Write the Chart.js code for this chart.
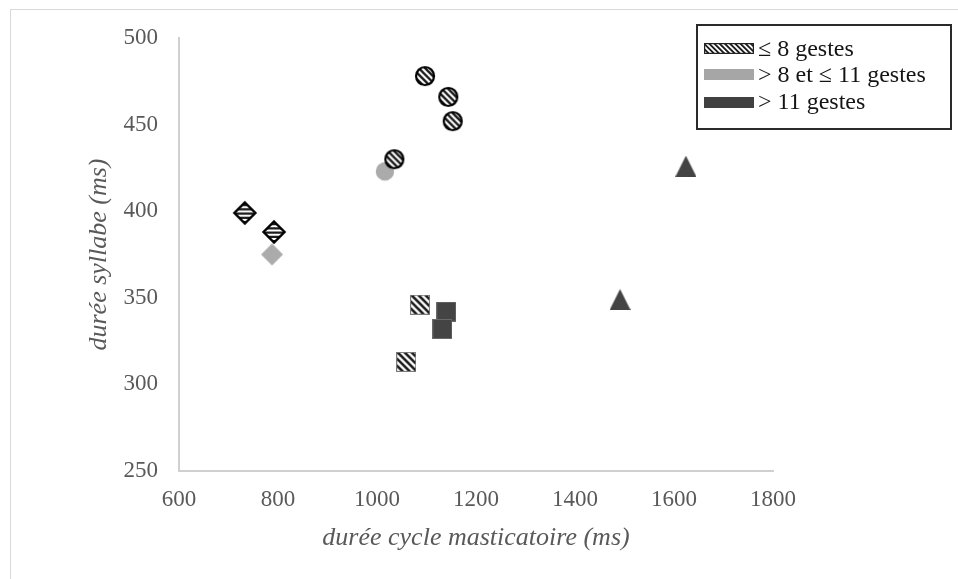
<!DOCTYPE html>
<html>
<head>
<meta charset="utf-8">
<script src="https://cdn.jsdelivr.net/npm/chart.js@4"></script>
<style>
  html, body { margin: 0; padding: 0; background: #ffffff; }
  #wrap { width: 958px; height: 579px; }
</style>
</head>
<body>
<div id="wrap"><canvas id="c" width="958" height="579"></canvas></div>
<script>
// Axis ticks
const xTickValues = [600, 800, 1000, 1200, 1400, 1600, 1800];
const yTickValues = [250, 300, 350, 400, 450, 500];

// Group labels (number of gestures)
const groupLabels = ['\u2264 8 gestes', '> 8 et \u2264 11 gestes', '> 11 gestes'];

// \u2264 8 gestes
const le8DiamondX = [733, 792];
const le8DiamondY = [399, 388];
const le8CircleX = [1097, 1144, 1153, 1035];
const le8CircleY = [478, 466, 452, 430];
const le8SquareX = [1087, 1059];
const le8SquareY = [346, 313];

// > 8 et \u2264 11 gestes
const midDiamondX = [788];
const midDiamondY = [375];
const midCircleX = [1016];
const midCircleY = [423];

// > 11 gestes
const gt11SquareX = [1140, 1132];
const gt11SquareY = [342, 332];
const gt11TriangleX = [1624, 1491];
const gt11TriangleY = [426, 349];

const GRAY = '#ababab';
const DARK = '#444444';
const INK = '#1c1c1c';

function pairs(xs, ys) { return xs.map((x, i) => ({ x: x, y: ys[i] })); }

function makeCanvas(w, h) {
  const c = document.createElement('canvas');
  c.width = w; c.height = h;
  return c;
}

// diagonal "\" stripes over the whole canvas
function diagStripes(ctx, w, h, step, lw) {
  ctx.save();
  ctx.fillStyle = '#ffffff';
  ctx.fillRect(0, 0, w, h);
  ctx.strokeStyle = INK;
  ctx.lineWidth = lw;
  for (let k = -h - step; k < w + step; k += step) {
    ctx.beginPath();
    ctx.moveTo(k, 0);
    ctx.lineTo(k + h, h);
    ctx.stroke();
  }
  ctx.restore();
}

function horizStripes(ctx, w, h, step, lw) {
  ctx.save();
  ctx.fillStyle = '#ffffff';
  ctx.fillRect(0, 0, w, h);
  ctx.strokeStyle = INK;
  ctx.lineWidth = lw;
  for (let k = 1; k < h + step; k += step) {
    ctx.beginPath();
    ctx.moveTo(0, k);
    ctx.lineTo(w, k);
    ctx.stroke();
  }
  ctx.restore();
}

function diamondPath(ctx, cx, cy, r) {
  ctx.beginPath();
  ctx.moveTo(cx, cy - r);
  ctx.lineTo(cx + r, cy);
  ctx.lineTo(cx, cy + r);
  ctx.lineTo(cx - r, cy);
  ctx.closePath();
}

function hatchDiamond() {
  const s = 26, c = makeCanvas(s, s), ctx = c.getContext('2d');
  diamondPath(ctx, s / 2, s / 2, 10.5);
  ctx.save(); ctx.clip(); horizStripes(ctx, s, s, 4.2, 2.2); ctx.restore();
  diamondPath(ctx, s / 2, s / 2, 10.5);
  ctx.lineWidth = 2.4; ctx.strokeStyle = '#000'; ctx.stroke();
  return c;
}

function grayDiamond() {
  const s = 24, c = makeCanvas(s, s), ctx = c.getContext('2d');
  diamondPath(ctx, s / 2, s / 2, 11);
  ctx.fillStyle = GRAY; ctx.fill();
  return c;
}

function hatchCircle() {
  const s = 24, c = makeCanvas(s, s), ctx = c.getContext('2d');
  ctx.beginPath(); ctx.arc(s / 2, s / 2, 9, 0, Math.PI * 2);
  ctx.save(); ctx.clip(); diagStripes(ctx, s, s, 6.4, 2.4); ctx.restore();
  ctx.beginPath(); ctx.arc(s / 2, s / 2, 9, 0, Math.PI * 2);
  ctx.lineWidth = 2.2; ctx.strokeStyle = '#000'; ctx.stroke();
  return c;
}

function grayCircle() {
  const s = 22, c = makeCanvas(s, s), ctx = c.getContext('2d');
  ctx.beginPath(); ctx.arc(s / 2, s / 2, 9.2, 0, Math.PI * 2);
  ctx.fillStyle = GRAY; ctx.fill();
  return c;
}

function hatchSquare() {
  const s = 20, c = makeCanvas(s, s), ctx = c.getContext('2d');
  diagStripes(ctx, s, s, 7, 2.6);
  ctx.lineWidth = 1; ctx.strokeStyle = '#7a7a7a';
  ctx.strokeRect(0.5, 0.5, s - 1, s - 1);
  return c;
}

function darkSquare() {
  const s = 20, c = makeCanvas(s, s), ctx = c.getContext('2d');
  ctx.fillStyle = DARK; ctx.fillRect(0, 0, s, s);
  ctx.lineWidth = 1; ctx.strokeStyle = '#6a6a6a';
  ctx.strokeRect(0.5, 0.5, s - 1, s - 1);
  return c;
}

function darkTriangle() {
  const w = 21, h = 21, c = makeCanvas(w, h), ctx = c.getContext('2d');
  ctx.beginPath();
  ctx.moveTo(w / 2, 0);
  ctx.lineTo(w, h);
  ctx.lineTo(0, h);
  ctx.closePath();
  ctx.fillStyle = DARK; ctx.fill();
  return c;
}

// Legend swatches
function swatchHatch() {
  const w = 50, h = 11, c = makeCanvas(w, h), ctx = c.getContext('2d');
  diagStripes(ctx, w, h, 5.2, 1.8);
  ctx.lineWidth = 1.2; ctx.strokeStyle = '#222';
  ctx.strokeRect(0.6, 0.6, w - 1.2, h - 1.2);
  return c;
}
function swatchFill(color) {
  const w = 50, h = 11, c = makeCanvas(w, h), ctx = c.getContext('2d');
  ctx.fillStyle = color; ctx.fillRect(0, 0, w, h);
  return c;
}
const swatches = [swatchHatch(), swatchFill('#a6a6a6'), swatchFill('#404040')];

function ds(label, xs, ys, style) {
  return {
    label: label,
    data: pairs(xs, ys),
    pointStyle: style,
    pointRadius: 10,
    pointHoverRadius: 10,
    showLine: false
  };
}

// White background and the light chart-area frame
const framePlugin = {
  id: 'frame',
  beforeDraw(chart) {
    const ctx = chart.ctx;
    ctx.save();
    ctx.fillStyle = '#ffffff';
    ctx.fillRect(0, 0, chart.width, chart.height);
    ctx.strokeStyle = '#d9d9d9';
    ctx.lineWidth = 1;
    ctx.strokeRect(10.5, 9.5, chart.width + 20, chart.height + 20);
    ctx.restore();
  }
};

// Boxed legend in the upper right corner
const boxLegend = {
  id: 'boxLegend',
  afterDraw(chart) {
    const ctx = chart.ctx;
    const left = 697, top = 25, w = 254, h = 104;
    ctx.save();
    ctx.fillStyle = '#ffffff';
    ctx.fillRect(left, top, w, h);
    ctx.lineWidth = 2;
    ctx.strokeStyle = '#2a2a2a';
    ctx.strokeRect(left, top, w, h);
    ctx.font = '24px "Liberation Serif", "DejaVu Serif", serif';
    ctx.fillStyle = '#141414';
    ctx.textBaseline = 'middle';
    ctx.textAlign = 'left';
    const rows = [48.5, 74.5, 102];
    groupLabels.forEach((t, i) => {
      ctx.drawImage(swatches[i], 704, Math.round(rows[i] - 5.5));
      ctx.fillText(t, 758, rows[i] + 1);
    });
    ctx.restore();
  }
};

const tickFont = { family: '"Liberation Serif", "Times New Roman", serif', size: 23 };
const titleFont = { family: '"Liberation Serif", "Times New Roman", serif', size: 26, style: 'italic', lineHeight: 1.2 };
const tickColor = '#595959';
const plain = v => String(v);

new Chart(document.getElementById('c'), {
  type: 'scatter',
  data: {
    datasets: [
      ds(groupLabels[0], le8DiamondX, le8DiamondY, hatchDiamond()),
      ds(groupLabels[0], le8CircleX, le8CircleY, hatchCircle()),
      ds(groupLabels[0], le8SquareX, le8SquareY, hatchSquare()),
      ds(groupLabels[1], midDiamondX, midDiamondY, grayDiamond()),
      ds(groupLabels[1], midCircleX, midCircleY, grayCircle()),
      ds(groupLabels[2], gt11SquareX, gt11SquareY, darkSquare()),
      ds(groupLabels[2], gt11TriangleX, gt11TriangleY, darkTriangle())
    ]
  },
  options: {
    responsive: false,
    animation: false,
    devicePixelRatio: 1,
    layout: { padding: { left: 0, top: 38, right: 185, bottom: 0 } },
    plugins: {
      legend: { display: false },
      tooltip: { enabled: false }
    },
    scales: {
      x: {
        type: 'linear',
        min: 600, max: 1800,
        afterBuildTicks(scale) { scale.ticks = xTickValues.map(v => ({ value: v })); },
        afterFit(scale) { scale.height = 108; },
        ticks: { font: tickFont, color: tickColor, padding: 15, maxRotation: 0, callback: plain },
        grid: { drawOnChartArea: false, drawTicks: false },
        border: { display: true, color: '#d0d0d0', width: 2 },
        title: {
          display: true,
          text: 'durée cycle masticatoire (ms)',
          font: titleFont, color: tickColor,
          padding: { top: 0, bottom: 25 }
        }
      },
      y: {
        type: 'linear',
        min: 250, max: 500,
        afterBuildTicks(scale) { scale.ticks = yTickValues.map(v => ({ value: v })); },
        afterFit(scale) { scale.width = 179; },
        ticks: { font: tickFont, color: tickColor, padding: 21, callback: plain },
        grid: { drawOnChartArea: false, drawTicks: false },
        border: { display: true, color: '#d0d0d0', width: 2 },
        title: {
          display: true,
          text: 'durée syllabe (ms)',
          font: titleFont, color: tickColor,
          padding: { top: 84, bottom: 0 }
        }
      }
    }
  },
  plugins: [framePlugin, boxLegend]
});
</script>
</body>
</html>
